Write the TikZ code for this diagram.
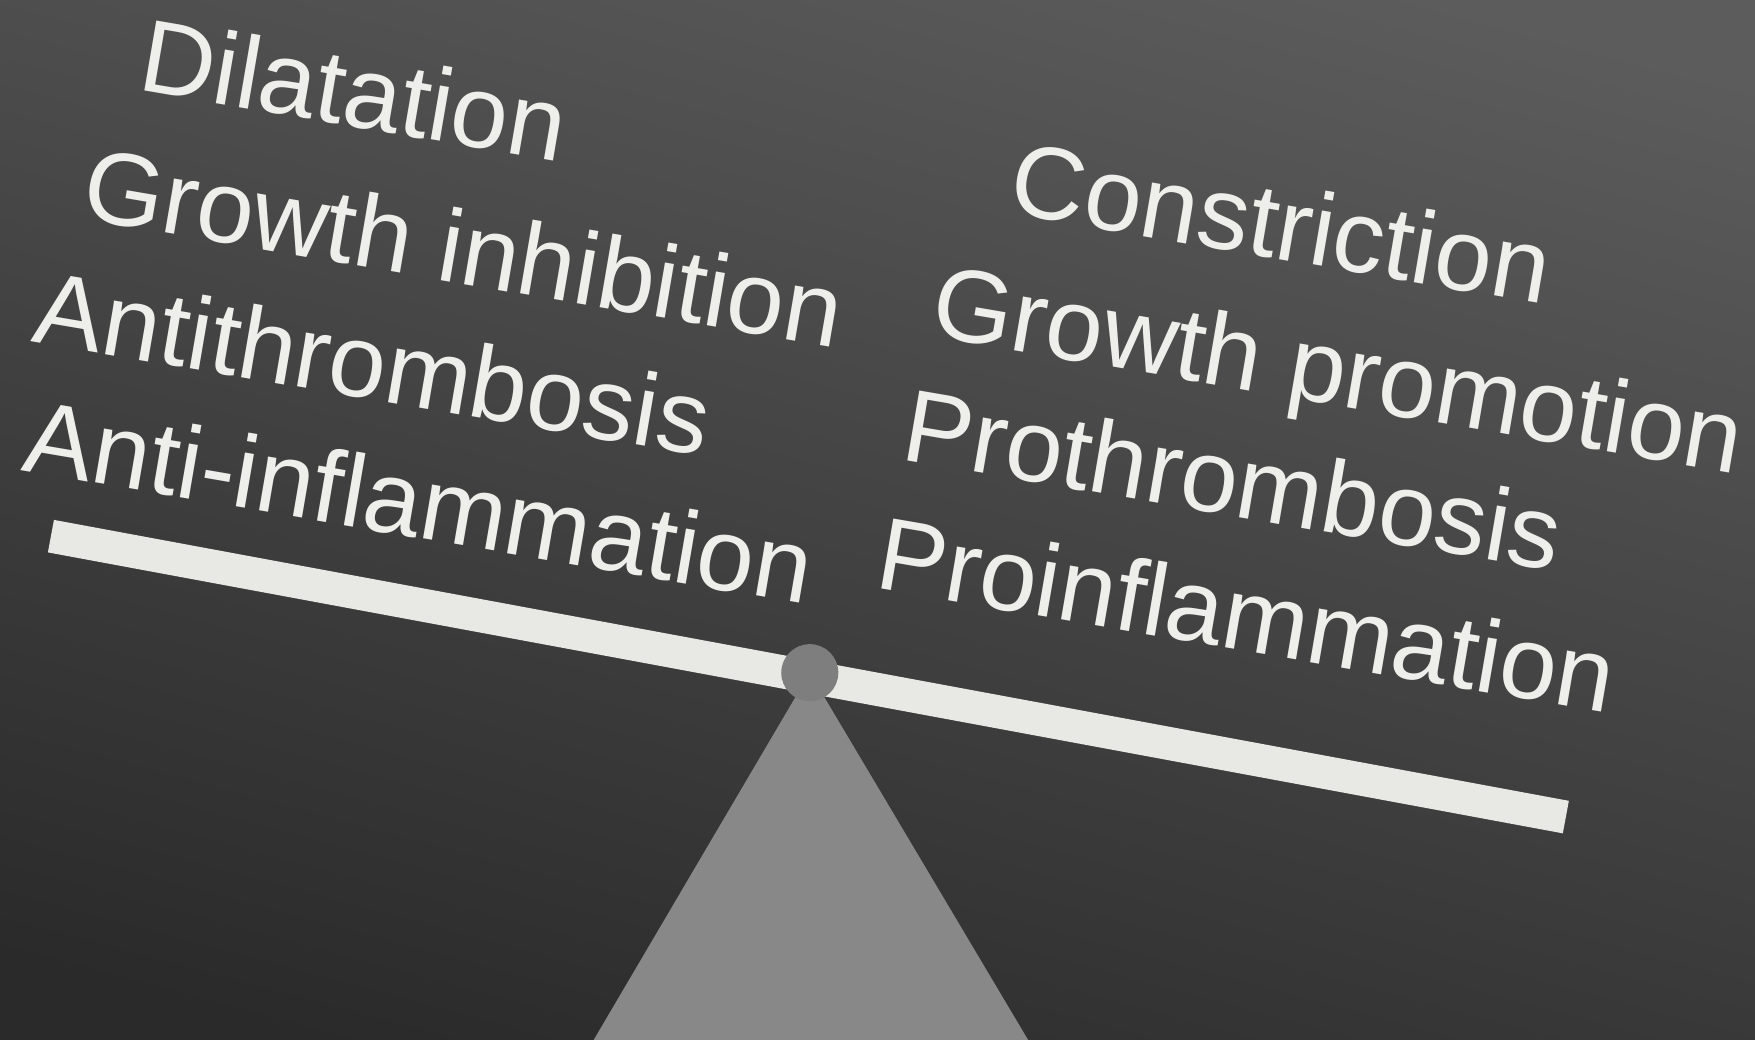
\documentclass[tikz,border=0pt]{standalone}
\usepackage{fontspec}
\setmainfont{Liberation Sans}
\definecolor{bgtop}{HTML}{5C5C5C}
\definecolor{bgmid}{HTML}{393939}
\definecolor{bgbot}{HTML}{2A2A2A}
\definecolor{wordcol}{HTML}{EEEEEA}
\definecolor{beamcol}{HTML}{E8E8E4}
\definecolor{standcol}{HTML}{888888}
\definecolor{hubcol}{HTML}{7E7E7E}
\begin{document}
\begin{tikzpicture}[x=0.01cm,y=-0.01cm,
        word/.style={anchor=base west,rotate=-9.7,inner sep=0pt,text=wordcol,
            font=\fontsize{26.2}{30}\selectfont}]
        \useasboundingbox (0,0) rectangle (1568,929);
        %% background
        \shade[top color=bgtop,middle color=bgmid,bottom color=bgbot,shading angle=-15]
            (-50,-50) rectangle (1618,979);
        %% stand
        \coordinate (piv) at (723.5,601);
        \coordinate (footl) at (530.5,929);
        \coordinate (footr) at (918.5,929);
        \fill[standcol] (piv) -- (footl) -- (footr) -- cycle;
        %% beam
        \coordinate (bl) at (45.5,479);
        \coordinate (br) at (1399,730);
        \draw[beamcol,line width=8.4pt] (bl) -- (br);
        \fill[hubcol] (piv) circle (25.5);
        %% left side
        \node[word] (dil) at (121,80) {Dilatation};
        \node[word] (ginh) at (70,195) {Growth inhibition};
        \node[word] (athr) at (27,305) {Antithrombosis};
        \node[word] (ainf) at (18,420) {Anti-inflammation};
        %% right side
        \node[word] (con) at (899,190) {Constriction};
        \node[word] (gpro) at (829,300) {Growth promotion};
        \node[word] (pthr) at (803,410) {Prothrombosis};
        \node[word] (pinf) at (780,525) {Proinflammation};
    \end{tikzpicture}
\end{document}
